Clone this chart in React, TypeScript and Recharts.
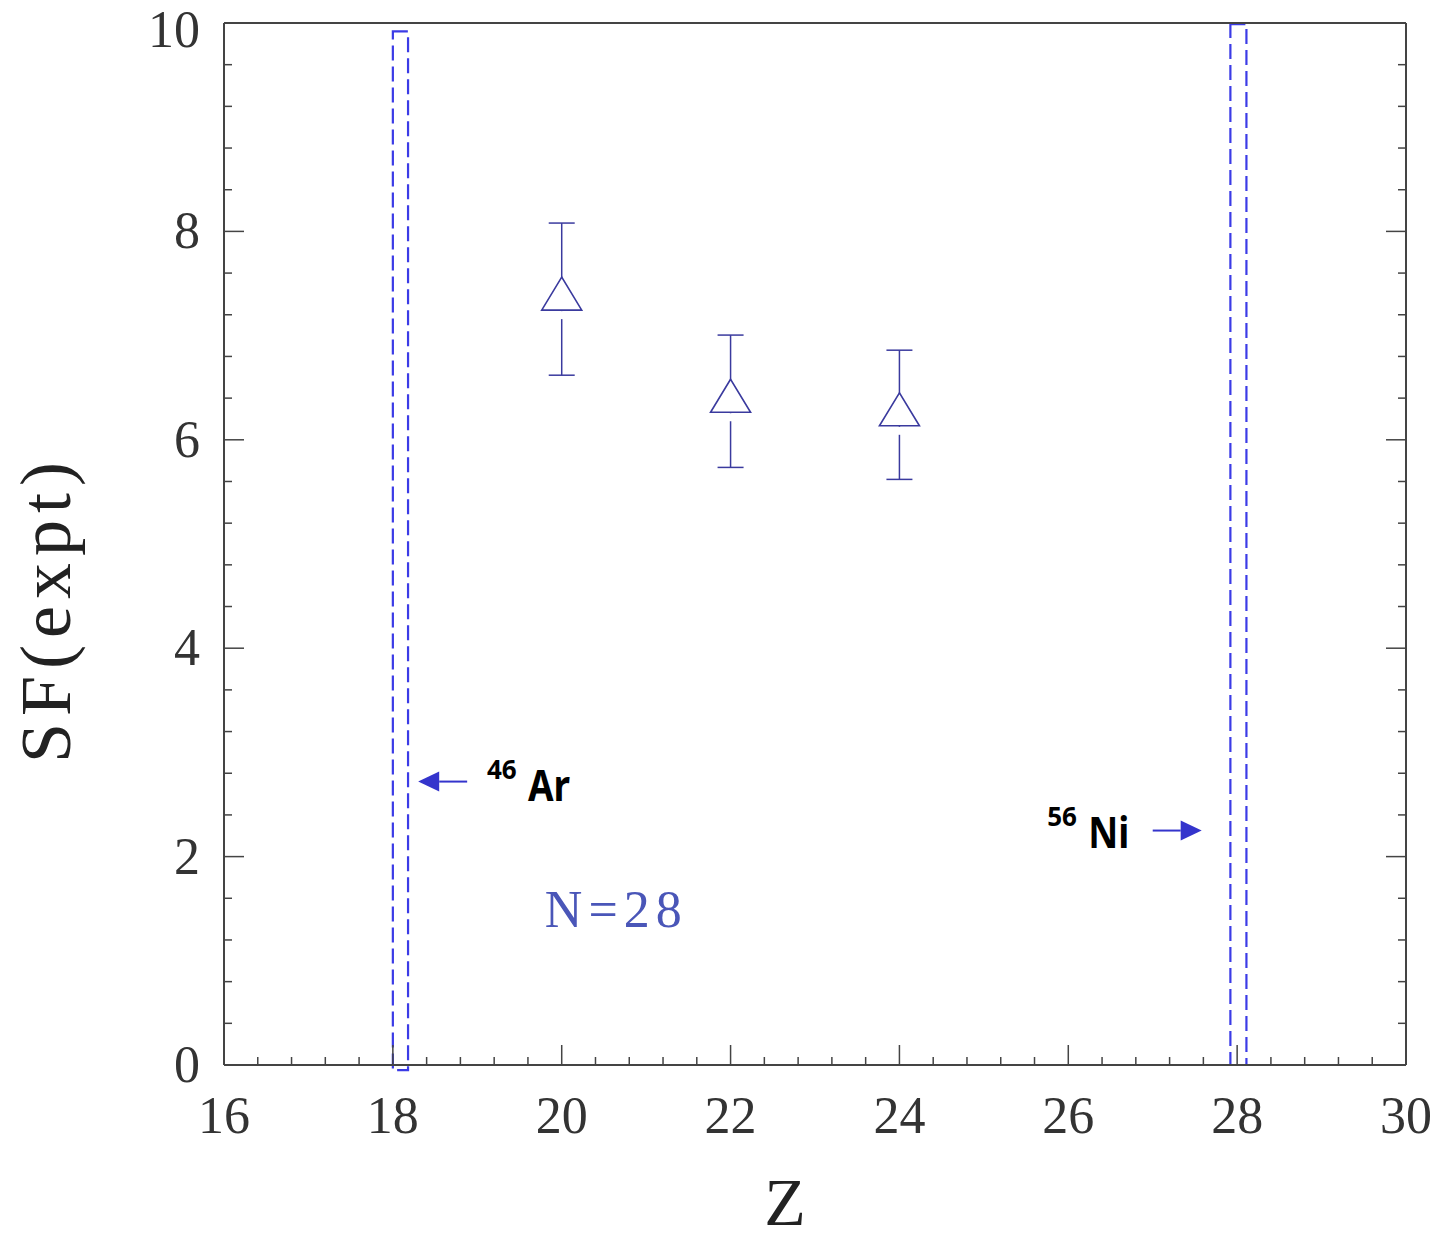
import React from 'react';
import {
  ComposedChart,
  Scatter,
  XAxis,
  YAxis,
  ErrorBar,
  ReferenceArea,
  ReferenceLine,
  ReferenceDot,
} from 'recharts';

// ---------- data ----------
const zValues = [20, 22, 24];
const sfValues = [7.35, 6.37, 6.24];
const sfErrors = [0.73, 0.635, 0.62];

const xMajorTicks = [16, 18, 20, 22, 24, 26, 28, 30];
const yMajorTicks = [0, 2, 4, 6, 8, 10];
const xDomain = [16, 30];
const yDomain = [0, 10];
const minorStep = 0.4;

// dashed bands for 46Ar (Z=18) and 56Ni (Z=28)
const bandZ1 = [18.0, 27.92];
const bandZ2 = [18.18, 28.11];
const bandSF1 = [-0.05, 0];
const bandSF2 = [9.92, 9.99];

// arrows: tail -> tip
const arrowFromZ = [18.88, 27.0];
const arrowToZ = [18.3, 27.58];
const arrowSF = [2.72, 2.25];

// isotope labels
const isoMass = ['46', '56'];
const isoSymbol = ['Ar', 'Ni'];
const isoZ = [19.115, 25.75];
const isoSF = [2.53, 2.08];

const chainText = 'N=28';
const chainZ = 19.8;
const chainSF = 1.32;

const xTitle = 'Z';
const yTitle = 'SF(expt)';

// ---------- derived ----------
const points = zValues.map((z, i) => ({ z, sf: sfValues[i], err: sfErrors[i] }));
const buildTicks = (lo: number, hi: number) =>
  Array.from({ length: Math.round((hi - lo) / minorStep) + 1 }, (_, i) =>
    Math.round((lo + i * minorStep) * 100) / 100
  );
const xTicks = buildTicks(xDomain[0], xDomain[1]);
const yTicks = buildTicks(yDomain[0], yDomain[1]);
const isMajor = (v: number, majors: number[]) => majors.some((m) => Math.abs(m - v) < 1e-6);

// ---------- styles ----------
const FRAME = '#444';
const TICK_FONT = '"Liberation Serif", "DejaVu Serif", serif';
const MARK = '#3a3a9e';
const BAND = '#3b3be6';
const ARROW = '#3434cc';
const MAJOR_LEN = 20;
const MINOR_LEN = 8;

const BottomTick = (p: any) => {
  const { x, y, payload } = p;
  const major = isMajor(payload.value, xMajorTicks);
  return (
    <g>
      <line x1={x} x2={x} y1={y} y2={y - (major ? MAJOR_LEN : MINOR_LEN)} stroke={FRAME} strokeWidth={1.5} />
      {major && (
        <text x={x} y={y + 68} textAnchor="middle" fontFamily={TICK_FONT} fontSize={52} fill="#333">
          {payload.value}
        </text>
      )}
    </g>
  );
};

const TopTick = (p: any) => {
  const { x, y, payload } = p;
  const major = isMajor(payload.value, xMajorTicks);
  return <line x1={x} x2={x} y1={y} y2={y + (major ? MAJOR_LEN : MINOR_LEN)} stroke={FRAME} strokeWidth={1.5} />;
};

const LeftTick = (p: any) => {
  const { x, y, payload } = p;
  const major = isMajor(payload.value, yMajorTicks);
  const ty = Math.max(y + 17, 47);
  return (
    <g>
      <line x1={x} x2={x + (major ? MAJOR_LEN : MINOR_LEN)} y1={y} y2={y} stroke={FRAME} strokeWidth={1.5} />
      {major && (
        <text x={x - 24} y={ty} textAnchor="end" fontFamily={TICK_FONT} fontSize={52} fill="#333">
          {payload.value}
        </text>
      )}
    </g>
  );
};

const RightTick = (p: any) => {
  const { x, y, payload } = p;
  const major = isMajor(payload.value, yMajorTicks);
  return <line x1={x} x2={x - (major ? MAJOR_LEN : MINOR_LEN)} y1={y} y2={y} stroke={FRAME} strokeWidth={1.5} />;
};

const TriangleMarker = (p: any) => {
  const { cx, cy } = p;
  return (
    <g>
      <rect x={cx - 3} y={cy + 12} width={6} height={8} fill="#fff" />
      <polygon
        points={`${cx},${cy - 22} ${cx - 20},${cy + 11} ${cx + 20},${cy + 11}`}
        fill="#fff"
        stroke={MARK}
        strokeWidth={1.6}
      />
    </g>
  );
};

const ArrowShape = (p: any) => {
  const { x1, y1, x2, y2 } = p;
  const dir = x2 > x1 ? 1 : -1;
  const headLen = 21;
  const headHalf = 10;
  const bx = x2 - dir * headLen;
  return (
    <g>
      <line x1={x1} y1={y1} x2={bx} y2={y2} stroke={ARROW} strokeWidth={2} />
      <polygon points={`${x2},${y2} ${bx},${y2 - headHalf} ${bx},${y2 + headHalf}`} fill={ARROW} />
    </g>
  );
};

const makeIsoLabel = (mass: string, sym: string) => (p: any) => {
  const { cx, cy } = p;
  return (
    <g fontFamily='"Noto Sans", "Open Sans", sans-serif' fontWeight="bold" fill="#000">
      <text x={cx} y={cy - 22} fontSize={26}>
        {mass}
      </text>
      <text transform={`translate(${cx + 41}, ${cy}) scale(0.86, 1)`} x={0} y={0} fontSize={43}>
        {sym}
      </text>
    </g>
  );
};

const ChainLabel = (p: any) => {
  const { cx, cy } = p;
  return (
    <text x={cx} y={cy} fontFamily={TICK_FONT} fontSize={52} fill="#4a56b8" letterSpacing={6}>
      {chainText}
    </text>
  );
};

const XTitle = (p: any) => {
  const vb = p.viewBox;
  return (
    <text x={vb.x + 561} y={vb.y + 160} textAnchor="middle" fontFamily={TICK_FONT} fontSize={68} fill="#222">
      {xTitle}
    </text>
  );
};

const YTitle = (p: any) => {
  const vb = p.viewBox;
  const cx = vb.x + 70;
  const cy = vb.y + 586;
  return (
    <text
      x={cx}
      y={cy}
      transform={`rotate(-90, ${cx}, ${cy})`}
      textAnchor="middle"
      fontFamily={TICK_FONT}
      fontSize={72}
      letterSpacing={7}
      fill="#222"
    >
      {yTitle}
    </text>
  );
};

export default function App() {
  return (
    <div style={{ position: 'absolute', left: 0, top: 0, background: '#fff' }}>
      <ComposedChart width={1456} height={1240} margin={{ top: 0, right: 0, bottom: 0, left: 0 }}>
        <XAxis
          xAxisId="b"
          dataKey="z"
          type="number"
          orientation="bottom"
          domain={xDomain}
          allowDataOverflow
          ticks={xTicks}
          interval={0}
          height={175}
          tickSize={0}
          tickMargin={0}
          tick={BottomTick}
          tickLine={false}
          axisLine={{ stroke: FRAME, strokeWidth: 2 }}
          label={XTitle}
        />
        <XAxis
          xAxisId="t"
          type="number"
          orientation="top"
          domain={xDomain}
          allowDataOverflow
          ticks={xTicks}
          interval={0}
          height={23}
          tickSize={0}
          tickMargin={0}
          tick={TopTick}
          tickLine={false}
          axisLine={{ stroke: FRAME, strokeWidth: 2 }}
        />
        <YAxis
          yAxisId="l"
          dataKey="sf"
          type="number"
          orientation="left"
          domain={yDomain}
          allowDataOverflow
          ticks={yTicks}
          interval={0}
          width={224}
          tickSize={0}
          tickMargin={0}
          tick={LeftTick}
          tickLine={false}
          axisLine={{ stroke: FRAME, strokeWidth: 2 }}
          label={YTitle}
        />
        <YAxis
          yAxisId="r"
          type="number"
          orientation="right"
          domain={yDomain}
          allowDataOverflow
          ticks={yTicks}
          interval={0}
          width={50}
          tickSize={0}
          tickMargin={0}
          tick={RightTick}
          tickLine={false}
          axisLine={{ stroke: FRAME, strokeWidth: 2 }}
        />

        {bandZ1.map((z1, i) => (
          <ReferenceArea
            key={`band${i}`}
            xAxisId="b"
            yAxisId="l"
            x1={z1}
            x2={bandZ2[i]}
            y1={bandSF1[i]}
            y2={bandSF2[i]}
            fill="none"
            fillOpacity={0}
            stroke={BAND}
            strokeWidth={2.2}
            strokeDasharray="15 6"
            ifOverflow="visible"
          />
        ))}

        {arrowFromZ.map((z, i) => (
          <ReferenceLine
            key={`arrow${i}`}
            xAxisId="b"
            yAxisId="l"
            segment={[
              { x: z, y: arrowSF[i] },
              { x: arrowToZ[i], y: arrowSF[i] },
            ]}
            shape={ArrowShape}
            ifOverflow="visible"
          />
        ))}

        {isoZ.map((z, i) => (
          <ReferenceDot
            key={`iso${i}`}
            xAxisId="b"
            yAxisId="l"
            x={z}
            y={isoSF[i]}
            r={0}
            shape={makeIsoLabel(isoMass[i], isoSymbol[i])}
            ifOverflow="visible"
          />
        ))}

        <ReferenceDot
          xAxisId="b"
          yAxisId="l"
          x={chainZ}
          y={chainSF}
          r={0}
          shape={ChainLabel}
          ifOverflow="visible"
        />

        <Scatter
          xAxisId="b"
          yAxisId="l"
          data={points}
          dataKey="sf"
          shape={TriangleMarker}
          isAnimationActive={false}
        >
          <ErrorBar dataKey="err" direction="y" width={13} stroke={MARK} strokeWidth={1.5} isAnimationActive={false} />
        </Scatter>
      </ComposedChart>
    </div>
  );
}
